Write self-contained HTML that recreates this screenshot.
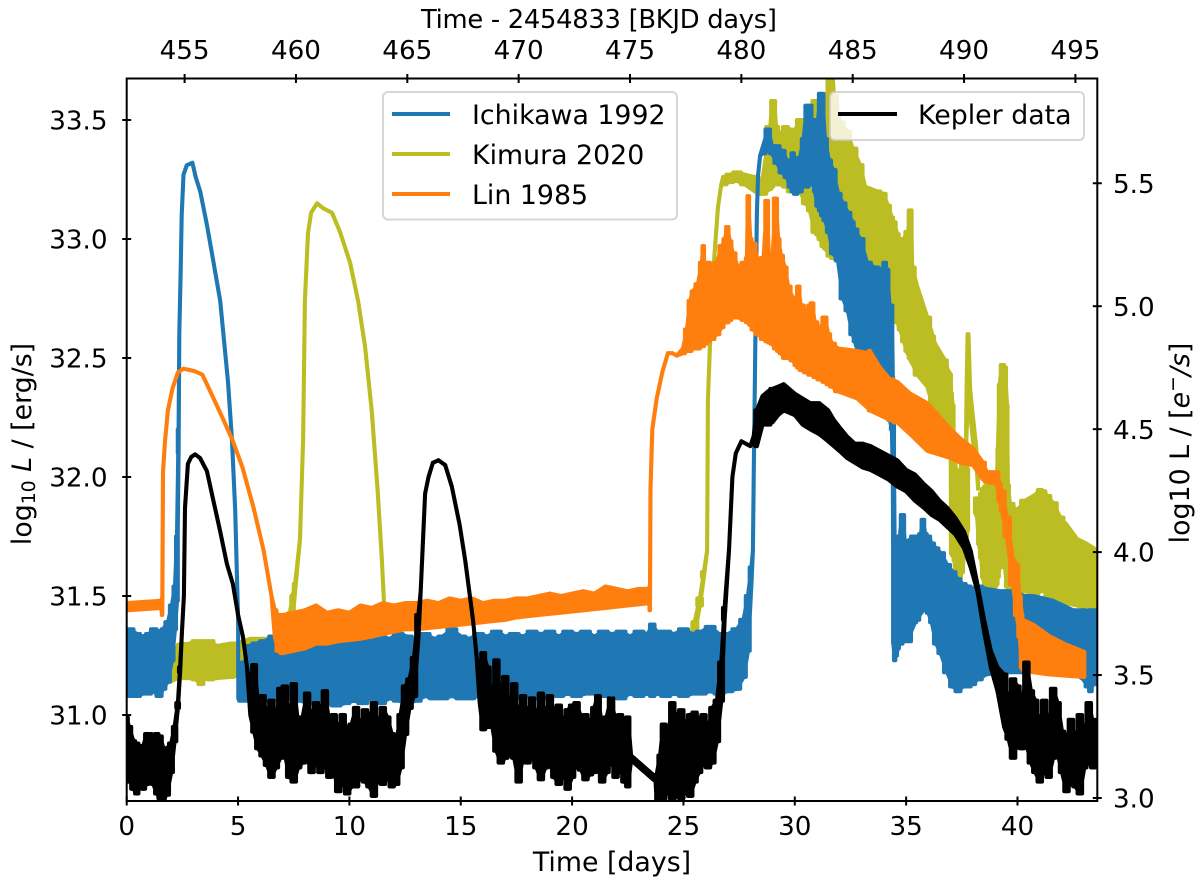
<!DOCTYPE html>
<html lang="en">
<head>
<meta charset="utf-8">
<title>Kepler light curve and disk model comparison</title>
<style>
html,body{margin:0;padding:0;background:#fff;}
svg{display:block;}
text{font-family:"DejaVu Sans",sans-serif;font-size:26.8px;fill:#000;}
</style>
</head>
<body>
<svg id="chart" xmlns="http://www.w3.org/2000/svg" width="1200" height="886" viewBox="0 0 1200 886">
  <defs>
    <clipPath id="plot-clip"><rect x="126.7" y="78.5" width="970.6" height="722.5"/></clipPath>
  </defs>
  <rect x="0" y="0" width="1200" height="886" fill="#fff"/>
  <g id="series" clip-path="url(#plot-clip)"></g>
  <rect x="126.7" y="78.5" width="970.6" height="722.5" fill="none" stroke="#000" stroke-width="2"/>
  <g id="ticks"></g>

  <text x="612" y="871" text-anchor="middle">Time [days]</text>
  <text x="421" y="28" textLength="356" lengthAdjust="spacing" style="font-size:25.8px">Time - 2454833 [BKJD days]</text>
  <text transform="translate(31,444) rotate(-90)" text-anchor="middle">log<tspan font-size="18.8" dy="4">10</tspan><tspan dy="-4"> </tspan><tspan font-style="italic">L</tspan> / [erg/s]</text>
  <text transform="translate(1189,443) rotate(-90)" text-anchor="middle">log10 L / [<tspan font-style="italic">e</tspan><tspan font-size="18.8" dy="-10">−</tspan><tspan font-style="italic" dy="10">/s</tspan>]</text>

  <g>
    <rect x="383" y="92" width="294" height="127.5" rx="5" ry="5" fill="#fff" fill-opacity="0.8" stroke="#ccc" stroke-opacity="0.8" stroke-width="2"/>
    <line x1="392" y1="114" x2="450" y2="114" stroke="#1f77b4" stroke-width="4"/>
    <text x="472" y="124">Ichikawa 1992</text>
    <line x1="392" y1="154" x2="450" y2="154" stroke="#bcbd22" stroke-width="4"/>
    <text x="472" y="164">Kimura 2020</text>
    <line x1="392" y1="194" x2="450" y2="194" stroke="#ff7f0e" stroke-width="4"/>
    <text x="472" y="204">Lin 1985</text>
  </g>
  <g>
    <rect x="830" y="92" width="254" height="48" rx="5" ry="5" fill="#fff" fill-opacity="0.8" stroke="#ccc" stroke-opacity="0.8" stroke-width="2"/>
    <line x1="838" y1="114" x2="897" y2="114" stroke="#000" stroke-width="4"/>
    <text x="918" y="124">Kepler data</text>
  </g>
</svg>
<script>
// Axis ticks
const bottomTicks = [0, 5, 10, 15, 20, 25, 30, 35, 40];
const topTicks = [455, 460, 465, 470, 475, 480, 485, 490, 495];
const leftTicks = [31.0, 31.5, 32.0, 32.5, 33.0, 33.5];
const rightTicks = [3.0, 3.5, 4.0, 4.5, 5.0, 5.5];

// Kimura 2020 (oscillation envelope: high / low)
const kimuraTimes = [
1.94,2.3,2.84,3.07,3.38,3.5,3.74,4.05,4.64,4.95,
5.54,6.57,7.02,7.24,7.33,7.45,7.56,7.78,7.92,8,
8.14,8.28,8.41,8.55,8.81,9.22,9.58,10.03,10.39,10.7,
11,11.27,11.46,11.55,11.6,11.62,12,16,20,25,
25.3,25.5,25.74,25.92,26.06,26.1,26.2,26.28,26.42,26.55,
26.7,26.78,27.09,27.4,27.76,28.2,28.53,28.9,28.98,29.07,
29.16,29.34,29.6,29.78,29.97,30.23,30.5,30.68,30.9,31,
31.13,31.27,31.36,31.58,31.67,31.76,32.03,32.35,32.6,32.93,
33.15,33.7,33.97,34.18,34.36,34.46,34.6,34.73,34.9,35.03,
35.08,35.15,35.22,35.27,35.5,35.95,36.2,36.3,36.75,36.9,
37,37.02,37.1,37.16,37.24,37.33,37.42,37.51,37.6,37.69,
37.78];
const kimuraHigh = [
31.14,31.295,31.3,31.31,31.31,31.31,31.31,31.29,31.3,31.3,
31.32,31.32,31.33,31.38,31.43,31.5,31.55,31.74,32.155,32.74,
33.025,33.11,33.13,33.15,33.13,33.11,33.03,32.9,32.74,32.55,
32.28,31.94,31.65,31.48,31.33,31.29,31.29,31.29,31.3,31.3,
31.32,31.39,31.49,31.6,31.69,32.32,32.58,32.78,32.97,33.135,
33.23,33.26,33.27,33.28,33.27,33.26,33.24,33.47,33.58,33.58,
33.47,33.44,33.47,33.46,33.45,33.5,33.5,33.47,33.58,33.58,
33.52,33.59,33.55,33.7,33.72,33.6,33.49,33.45,33.38,33.31,
33.22,33.2,33.19,33.14,33.09,33.07,33.02,32.97,33,33.03,
33,33.12,33.12,32.88,32.8,32.67,32.59,32.56,32.49,32.44,
32.43,32.35,32.3,32.1,32.03,31.99,32,32.05,32.06,32.05,
32.03];
const kimuraLow = [
31.14,31.155,31.155,31.15,31.13,31.155,31.15,31.155,31.16,31.165,
31.17,31.18,31.2,31.23,31.25,31.4,31.52,31.74,32.155,32.74,
33.025,33.11,33.13,33.15,33.13,33.11,33.03,32.9,32.74,32.55,
32.28,31.94,31.65,31.48,31.33,31.17,31.16,31.16,31.16,31.17,
31.28,31.34,31.46,31.58,31.69,32.32,32.58,32.78,32.97,33.135,
33.23,33.23,33.24,33.245,33.23,33.2,33.19,33.21,33.22,33.24,
33.23,33.23,33.22,33.2,33.2,33.2,33.15,33.12,33.03,33.02,
33,32.97,32.96,32.93,32.92,32.92,32.92,32.88,32.84,32.82,
32.8,32.77,32.75,32.74,32.73,32.72,32.65,32.62,32.57,32.53,
32.52,32.5,32.49,32.48,32.43,32.38,32.3,32.28,32.2,32.15,
32.12,31.68,31.67,31.65,31.6,31.59,31.58,31.6,31.67,31.75,
31.78];

// Kimura 2020 – narrow flare near day 38
const kimuraFlareTimes = [37.69,37.72,37.76,37.8,37.87,38,38.14,38.23];
const kimuraFlareHigh = [32.2,32.4,32.6,32.6,32.37,32.25,32.13,32.02];
const kimuraFlareLow = [32.12,32.2,32.3,32.3,32.27,32.15,32.08,31.95];

// Kimura 2020 – decay after day 38
const kimuraTailTimes = [
38.09,38.18,38.27,38.36,38.45,38.54,38.77,39,39.08,39.12,
39.2,39.3,39.35,39.44,39.53,39.57,39.66,
39.98,40.34,40.8,41.03,41.15,41.35,41.6,41.92,42.2,42.67,43.1,43.6];
const kimuraTailHigh = [
31.91,31.91,31.91,31.93,31.95,31.96,31.98,31.98,32,32.12,
32.387,32.47,32.47,32.46,32.3,31.966,31.887,
31.86,31.9,31.925,31.945,31.94,31.92,31.89,31.83,31.8,31.74,31.72,31.69];
const kimuraTailLow = [
31.85,31.84,31.72,31.66,31.58,31.53,31.5,31.54,31.55,31.58,
31.62,31.67,31.68,31.62,31.54,31.52,31.52,
31.52,31.52,31.5,31.52,31.57,31.5,31.48,31.47,31.47,31.46,31.45,31.45];

// Ichikawa 1992
const ichikawaTimes = [
0,.15,.46,.73,1,1.18,1.5,1.63,1.85,2.03,
2.17,2.26,2.33,2.36,2.42,2.47,2.55,2.7,2.95,3.1,
3.3,3.6,3.9,4.2,4.55,4.73,4.87,5,5.01,5.05,
5.3,5.5,5.8,6.2,6.6,7,7.4,7.8,8.2,8.6,
9,9.4,9.8,10.2,10.6,11,11.4,11.8,12.2,12.6,
13,13.4,13.8,14.2,14.6,15,15.4,15.8,16.2,16.6,
17,17.4,17.8,18.2,18.6,19,19.4,19.8,20.2,20.6,
21,21.4,21.8,22.2,22.6,23,23.4,23.6,23.8,24.2,
24.6,25,25.4,25.8,26.2,26.6,27,27.4,27.7,27.9,
28.05,28.12,28.16,28.21,28.25,28.3,28.35,28.44,28.57,28.8,
28.97,29.2,29.43,29.65,29.78,29.92,30,30.23,30.4,30.55,
30.68,30.82,30.9,31.03,31.13,31.22,31.35,31.53,31.72,31.94,
32.17,32.38,32.6,32.69,32.93,33.24,33.6,33.9,34.05,34.14,
34.27,34.36,34.4,34.43,34.48,34.55,34.63,34.72,34.8,34.87,
34.95,35.04,35.4,35.5,35.67,35.72,35.77,35.85,36,36.15,
36.35,36.55,36.85,37.1,37.33,37.55,37.8,38,38.2,38.6,
39.2,39.8,40.3,40.7,41.15,41.6,42.05,42.5,42.95,43.17,
43.26,43.4,43.6];
const ichikawaHigh = [
31.35,31.36,31.34,31.33,31.34,31.36,31.35,31.36,31.39,31.46,
31.54,31.75,32.2,32.6,32.85,33.1,33.27,33.31,33.32,33.26,
33.2,33.06,32.9,32.74,32.4,32.155,31.86,31.4,31.07,31.1,
31.22,31.29,31.3,31.31,31.33,31.3,31.31,31.33,31.3,31.31,
31.3,31.31,31.32,31.3,31.33,31.31,31.33,31.32,31.34,31.33,
31.32,31.34,31.32,31.33,31.36,31.33,31.32,31.34,31.33,31.35,
31.33,31.34,31.33,31.35,31.34,31.35,31.33,31.35,31.34,31.35,
31.33,31.35,31.34,31.35,31.33,31.35,31.34,31.38,31.35,31.35,
31.34,31.36,31.34,31.35,31.37,31.34,31.34,31.36,31.4,31.5,
31.62,31.69,32.03,32.41,32.74,33.11,33.27,33.35,33.39,33.46,
33.39,33.39,33.37,33.33,33.3,33.36,33.3,33.34,33.42,33.56,
33.56,33.46,33.5,33.47,33.61,33.61,33.42,33.33,33.29,33.19,
33.15,33.11,33.07,33.04,33,32.9,32.88,32.87,32.9,32.87,
32.7,32.72,32.42,32.3,31.74,31.74,31.75,31.75,31.84,31.84,
31.7,31.73,31.75,31.75,31.76,31.82,31.82,31.76,31.75,31.72,
31.7,31.68,31.63,31.6,31.57,31.55,31.54,31.53,31.54,31.53,
31.52,31.52,31.5,31.5,31.49,31.48,31.46,31.44,31.44,31.43,
31.44,31.44,31.43];
const ichikawaLow = [
31.09,31.08,31.08,31.09,31.09,31.1,31.08,31.11,31.14,31.23,
31.36,31.48,32.1,32.6,32.85,33.1,33.27,33.31,33.32,33.26,
33.2,33.06,32.9,32.74,32.4,32.155,31.86,31.4,31.07,31.06,
31.06,31.07,31.07,31.06,31.07,31.06,31.07,31.06,31.05,31.06,
31.05,31.04,31.05,31.06,31.05,31.07,31.05,31.07,31.06,31.05,
31.06,31.08,31.07,31.07,31.08,31.07,31.07,31.08,31.06,31.08,
31.07,31.07,31.09,31.08,31.07,31.09,31.08,31.09,31.08,31.09,
31.09,31.08,31.09,31.07,31.09,31.08,31.09,31.08,31.09,31.08,
31.09,31.08,31.09,31.09,31.1,31.09,31.1,31.11,31.16,31.27,
31.55,31.69,32.03,32.41,32.74,33.11,33.27,33.35,33.36,33.37,
33.36,33.32,33.28,33.26,33.22,33.2,33.19,33.2,33.23,33.22,
33.23,33.23,33.2,33.14,33.12,33.1,33.08,33.03,32.94,32.91,
32.75,32.7,32.6,32.57,32.5,32.4,32.35,32.3,32.28,32.27,
32.24,32.2,32,31.3,31.23,31.25,31.28,31.3,31.3,31.31,
31.31,31.31,31.39,31.4,31.43,31.44,31.45,31.44,31.43,31.39,
31.3,31.26,31.18,31.12,31.1,31.12,31.12,31.13,31.15,31.17,
31.18,31.18,31.18,31.19,31.19,31.18,31.18,31.18,31.15,31.12,
31.1,31.13,31.14];

// Lin 1985
const linTimes = [
0,1.55,1.6,1.63,1.72,1.85,2.05,2.3,2.55,2.8,
3.05,3.4,3.7,4.2,4.75,5.2,5.7,6.15,6.5,6.65,
6.8,7,7.5,8,8.5,9,9.5,10,10.5,11,
11.5,12,12.5,13,13.5,14,14.5,15,15.5,16,
16.5,17,17.5,18,18.5,19,19.5,20,20.5,21,
21.5,22,22.5,23,23.45,23.5,23.52,23.6,23.8,24.05,
24.3,24.5,24.7,24.98,25.16,25.3,25.43,25.65,25.83,25.88,
25.97,26.1,26.28,26.5,26.73,26.87,26.96,27.09,27.22,27.45,
27.76,27.85,27.9,28,28.12,28.35,28.6,28.75,28.85,28.97,
29.15,29.25,29.38,29.56,29.7,29.92,30.05,30.15,30.27,30.55,
30.65,30.77,30.9,31.13,31.35,31.5,31.67,31.94,32.8,33.28,
33.37,33.82,34.27,34.6,35.18,35.95,37,37.45,38,38.45,
38.62,39.07,39.2,39.3,39.53,39.8,39.97,40.1,40.2,40.24,
40.7,41.45,42.2,43];
const linHigh = [
31.47,31.48,31.49,32.02,32.15,32.28,32.37,32.44,32.455,32.45,
32.445,32.43,32.37,32.27,32.155,32.04,31.87,31.69,31.5,31.44,
31.42,31.42,31.43,31.44,31.46,31.43,31.44,31.43,31.46,31.45,
31.47,31.46,31.47,31.47,31.48,31.47,31.49,31.48,31.49,31.47,
31.48,31.48,31.49,31.49,31.5,31.51,31.5,31.51,31.52,31.51,
31.54,31.53,31.52,31.53,31.53,31.54,31.95,32.2,32.33,32.44,
32.52,32.52,32.51,32.54,32.62,32.74,32.78,32.81,32.9,32.97,
32.81,32.9,32.84,32.9,32.97,33,33.05,32.99,32.94,32.88,
32.9,32.92,33.18,33,32.98,32.91,32.92,33.16,32.87,32.88,
33.17,33,32.93,32.88,32.8,32.75,32.74,32.8,32.72,32.69,
32.72,32.73,32.65,32.62,32.67,32.6,32.56,32.54,32.53,32.52,
32.53,32.46,32.41,32.4,32.35,32.31,32.2,32.16,32.12,32.06,
32.02,32.02,31.97,31.94,31.83,31.65,31.63,31.5,31.42,31.4,
31.38,31.33,31.295,31.265];
const linLow = [
31.44,31.45,31.42,32.02,32.15,32.28,32.37,32.44,32.455,32.45,
32.445,32.43,32.37,32.27,32.155,32.04,31.87,31.69,31.5,31.33,
31.27,31.26,31.27,31.28,31.3,31.3,31.31,31.315,31.32,31.33,
31.34,31.35,31.36,31.36,31.365,31.37,31.375,31.38,31.385,31.39,
31.395,31.4,31.41,31.415,31.42,31.425,31.43,31.435,31.44,31.445,
31.45,31.455,31.46,31.465,31.47,31.44,31.95,32.2,32.33,32.44,
32.52,32.52,32.51,32.52,32.53,32.53,32.54,32.54,32.55,32.55,
32.56,32.57,32.58,32.6,32.63,32.65,32.65,32.66,32.67,32.67,
32.66,32.65,32.65,32.64,32.62,32.6,32.58,32.57,32.565,32.56,
32.54,32.53,32.52,32.5,32.5,32.49,32.47,32.46,32.45,32.44,
32.43,32.43,32.42,32.41,32.4,32.39,32.38,32.36,32.33,32.29,
32.28,32.26,32.24,32.23,32.18,32.11,32.08,32.06,32.05,31.99,
31.98,31.97,31.9,31.86,31.75,31.55,31.42,31.33,31.2,31.19,
31.18,31.17,31.165,31.16];

// Kepler data (plotted against the left-axis scale)
const keplerTimes = [
0,.1,.3,.45,.6,.75,.9,1.05,1.2,1.35,
1.5,1.65,1.8,2,2.15,2.3,2.4,2.48,2.57,2.62,
2.75,2.9,3.07,3.29,3.6,3.87,4.19,4.5,4.77,5,
5.22,5.4,5.55,5.72,5.9,6.1,6.3,6.5,6.7,6.9,
7.1,7.3,7.5,7.7,7.9,8.1,8.3,8.5,8.7,8.9,
9.1,9.3,9.5,9.7,9.9,10.1,10.3,10.5,10.7,10.9,
11.1,11.3,11.5,11.7,11.9,12.1,12.3,12.5,12.7,12.9,
13.1,13.2,13.4,13.55,13.75,14,14.3,14.6,14.95,15.2,
15.55,15.7,15.85,16,16.2,16.4,16.6,16.8,17,17.2,
17.4,17.6,17.8,18,18.2,18.4,18.6,18.8,19,19.2,
19.4,19.6,19.8,20,20.2,20.4,20.6,20.8,21,21.15,
21.35,21.55,21.75,21.95,22.15,22.35,22.5,22.65,23.75,23.8,
23.95,24.1,24.3,24.5,24.7,24.9,25.1,25.3,25.5,25.7,
25.9,26.1,26.3,26.5,26.7,26.85,27.05,27.2,27.35,27.6,
28,28.15,
28.3,28.55,28.8,29,29.25,29.5,29.75,30,30.35,30.7,
31.1,31.5,31.75,32,32.35,32.7,33.05,33.4,33.8,34.2,
34.6,35,35.4,35.8,36.15,36.5,36.85,37.2,37.6,37.9,
38.2,
38.5,38.8,39.1,39.4,39.6,39.8,40,40.2,40.4,40.6,
40.8,41,41.2,41.4,41.6,41.8,42,42.2,42.4,42.6,
42.8,43,43.2,43.4,43.6];
const keplerHigh = [
30.99,30.95,30.89,30.88,30.87,30.87,30.92,30.92,30.91,30.92,
30.91,30.86,30.86,30.88,30.95,31.05,31.2,31.345,31.5,31.87,
32.055,32.085,32.095,32.08,32.025,31.91,31.775,31.635,31.55,31.42,
31.33,31.2,31.12,31.21,31.05,31.08,31,31.06,30.97,31.11,
31.12,30.98,31.13,30.96,30.99,31.09,30.97,31.05,31,31.1,
30.96,31,30.94,31,30.92,30.96,31.03,30.95,31.02,30.98,
31.05,30.95,31.03,30.99,30.92,30.88,31,31.12,31.15,31.24,
31.42,31.52,31.93,32.0,32.06,32.07,32.05,31.96,31.8,31.65,
31.4,31.26,31.14,31.26,31.2,31.04,31.23,31.06,31.16,31.02,
31.13,30.97,31.08,31,31.07,30.98,31.09,30.99,31.08,31,
31.04,30.96,31.02,31.04,31.05,30.99,31,30.95,31.03,31.08,
30.95,30.99,31.07,30.97,31,30.93,30.99,30.83,30.74,30.75,
30.83,30.96,30.9,31.05,30.98,31.02,30.95,31,31.01,30.98,
31,30.93,31.03,31.06,31.22,31.45,31.7,32.0,32.1,32.15,
32.13,32.17,
32.28,32.34,32.36,32.37,32.38,32.39,32.37,32.35,32.33,32.31,
32.31,32.28,32.24,32.21,32.17,32.14,32.14,32.13,32.11,32.09,
32.07,32.03,32.01,31.97,31.94,31.9,31.87,31.83,31.77,31.69,
31.55,
31.4,31.27,31.2,31.17,31.04,31.15,31.12,31,31.22,31.1,
31.06,30.95,31.06,30.92,31.11,31.05,30.93,30.88,30.98,30.88,
31,30.9,31.05,30.96,30.98];
const keplerLow = [
30.72,30.73,30.69,30.67,30.71,30.69,30.71,30.73,30.71,30.67,
30.65,30.65,30.665,30.76,30.89,31.03,31.18,31.345,31.5,31.87,
32.055,32.085,32.095,32.08,32.025,31.91,31.775,31.635,31.55,31.42,
31.33,31.2,31,30.93,30.86,30.83,30.79,30.74,30.78,30.82,
30.84,30.74,30.72,30.78,30.8,30.82,30.76,30.8,30.76,30.8,
30.74,30.77,30.68,30.72,30.67,30.7,30.7,30.74,30.72,30.7,
30.66,30.75,30.71,30.74,30.7,30.71,30.78,30.92,31.03,31.08,
31.32,31.52,31.93,32.0,32.06,32.07,32.05,31.96,31.8,31.65,
31.4,31.26,31.05,30.94,30.95,30.96,30.85,30.8,30.82,30.83,
30.82,30.72,30.83,30.8,30.83,30.78,30.73,30.78,30.8,30.74,
30.71,30.76,30.69,30.74,30.8,30.77,30.73,30.75,30.76,30.78,
30.72,30.76,30.82,30.74,30.78,30.72,30.7,30.81,30.72,30.63,
30.63,30.65,30.68,30.64,30.66,30.65,30.68,30.66,30.72,30.76,
30.8,30.78,30.8,30.89,31.06,31.4,31.7,32.0,32.1,32.15,
32.13,32.15,
32.13,32.22,32.22,32.23,32.26,32.28,32.27,32.26,32.22,32.2,
32.18,32.15,32.13,32.11,32.08,32.06,32.04,32.03,32.01,31.99,
31.96,31.94,31.9,31.87,31.84,31.82,31.79,31.76,31.7,31.62,
31.52,
31.35,31.2,31.1,30.95,30.9,30.82,30.88,30.86,30.88,30.8,
30.76,30.72,30.77,30.74,30.82,30.84,30.76,30.68,30.72,30.7,
30.67,30.78,30.8,30.78,30.83];

const SVG_NS = 'http://www.w3.org/2000/svg';

// Axis functions
function xScale(day) { return 126.7 + 22.27 * day; }
function xTopScale(bkjd) { return xScale(bkjd - 452.4); }
function yLeftScale(logL) { return 715 - (logL - 31) * 238; }
function yRightScale(logE) { return 798 - (logE - 3) * 245.9; }

function quad(x0, x1, h0, h1, l0, l1) {
  return 'M' + x0.toFixed(1) + ' ' + h0.toFixed(1) + 'L' + x1.toFixed(1) + ' ' + h1.toFixed(1) +
         'L' + x1.toFixed(1) + ' ' + l1.toFixed(1) + 'L' + x0.toFixed(1) + ' ' + l0.toFixed(1) + 'Z';
}

// Every interval gets a continuous segment; fast oscillation also gets vertical sticks.
function bandPath(times, high, low, stickSpacing) {
  let d = '';
  for (let i = 0; i + 1 < times.length; i++) {
    const x0 = xScale(times[i]);
    const x1 = xScale(times[i + 1]);
    const h0 = yLeftScale(high[i]);
    const h1 = yLeftScale(high[i + 1]);
    const l0 = yLeftScale(low[i]);
    const l1 = yLeftScale(low[i + 1]);
    d += quad(x0, x1, h0, h1, l0, l1);
    const oscillating = high[i] !== low[i] && high[i + 1] !== low[i + 1];
    if (oscillating && times[i + 1] - times[i] <= stickSpacing) {
      const xm = (x0 + x1) / 2;
      d += quad(x0, xm, h0, h0, l0, l0) + quad(xm, x1, h1, h1, l1, l1);
    }
  }
  return d;
}

const seriesGroup = document.getElementById('series');
function addBand(name, color, times, high, low, stickSpacing) {
  const path = document.createElementNS(SVG_NS, 'path');
  path.setAttribute('d', bandPath(times, high, low, stickSpacing));
  path.setAttribute('fill', color);
  path.setAttribute('stroke', color);
  path.setAttribute('stroke-width', '4.1');
  path.setAttribute('stroke-linejoin', 'round');
  
  
  seriesGroup.appendChild(path);
}

addBand('kimura-2020-line', '#bcbd22', kimuraTimes, kimuraHigh, kimuraLow, 0.41);
addBand('kimura-2020-flare', '#bcbd22', kimuraFlareTimes, kimuraFlareHigh, kimuraFlareLow, 0);
addBand('kimura-2020-decay', '#bcbd22', kimuraTailTimes, kimuraTailHigh, kimuraTailLow, 0.41);
addBand('ichikawa-1992-line', '#1f77b4', ichikawaTimes, ichikawaHigh, ichikawaLow, 0.41);
addBand('lin-1985-line', '#ff7f0e', linTimes, linHigh, linLow, 0.41);
addBand('kepler-data-line', '#000000', keplerTimes, keplerHigh, keplerLow, 0.22);

const tickGroup = document.getElementById('ticks');
function addTick(x1, y1, x2, y2) {
  const tick = document.createElementNS(SVG_NS, 'line');
  tick.setAttribute('x1', x1);
  tick.setAttribute('y1', y1);
  tick.setAttribute('x2', x2);
  tick.setAttribute('y2', y2);
  tick.setAttribute('stroke', '#000');
  tick.setAttribute('stroke-width', '2');
  
  
  tickGroup.appendChild(tick);
}
function addLabel(x, y, anchor, str) {
  const label = document.createElementNS(SVG_NS, 'text');
  label.setAttribute('x', x);
  label.setAttribute('y', y);
  label.setAttribute('text-anchor', anchor);
  
  
  label.style.fontSize = '26.2px';
  label.textContent = str;
  tickGroup.appendChild(label);
}

bottomTicks.forEach(function (v) {
  const x = xScale(v);
  addTick(x, 796.5, x, 805.5);
  addLabel(x, 835, 'middle', String(v));
});
topTicks.forEach(function (v) {
  const x = xTopScale(v);
  addTick(x, 74, x, 83);
  addLabel(x, 59, 'middle', String(v));
});
leftTicks.forEach(function (v) {
  const y = yLeftScale(v);
  addTick(122.2, y, 131.2, y);
  addLabel(107.5, y + 9.6, 'end', v.toFixed(1));
});
rightTicks.forEach(function (v) {
  const y = yRightScale(v);
  addTick(1092.8, y, 1101.8, y);
  addLabel(1113, y + 9.6, 'start', v.toFixed(1));
});
</script>
</body>
</html>
